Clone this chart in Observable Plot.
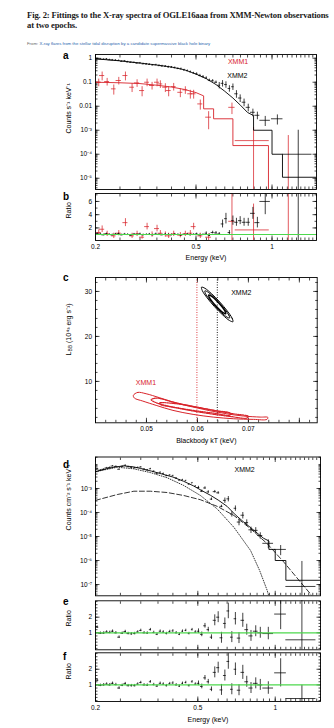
<!DOCTYPE html>
<html><head><meta charset="utf-8">
<script src="https://cdn.jsdelivr.net/npm/d3@7"></script>
<script src="https://cdn.jsdelivr.net/npm/@observablehq/plot@0.6"></script>
<style>
html,body{margin:0;padding:0;background:#fff;}
body{width:334px;height:728px;position:relative;overflow:hidden;font-family:"Liberation Sans",Arial,sans-serif;}
#title{position:absolute;left:27px;top:10px;font-family:"Liberation Serif",serif;font-weight:bold;font-size:8.6px;letter-spacing:-0.12px;line-height:10px;white-space:nowrap;color:#1a1a1a;}
#from{position:absolute;left:27px;top:40.5px;font-size:4.3px;line-height:5px;white-space:nowrap;color:#666;}
#from span{color:#2a64ad;}
.let{position:absolute;left:63px;font-weight:bold;font-size:10px;line-height:10px;color:#000;}
</style></head><body>
<div id="title">Fig. 2: Fittings to the X-ray spectra of OGLE16aaa from XMM-Newton observations<br>at two epochs.</div>
<div id="from">From: <span>X-ray flares from the stellar tidal disruption by a candidate supermassive black hole binary</span></div>
<div class="let" style="top:50.5px">a</div>
<div class="let" style="top:192.2px">b</div>
<div class="let" style="top:273.2px">c</div>
<div class="let" style="top:459.8px">d</div>
<div class="let" style="top:596.5px">e</div>
<div class="let" style="top:651.5px">f</div>
<script>
// ---------- XMM2 spectrum (energies, keV) ----------
const E2 = [0.203,0.209,0.215,0.221,0.227,0.233,0.240,0.247,0.254,0.261,
  0.268,0.276,0.284,0.292,0.300,0.309,0.318,0.327,0.337,0.347,
  0.357,0.367,0.378,0.389,0.400,0.412,0.424,0.436,0.449,0.462,
  0.475,0.489,0.503,0.518,0.533,0.549,0.565,0.582,0.600,0.618,
  0.637,0.657,0.678,0.700,0.723,0.748,0.775,0.805,0.840,0.875,
  0.940,1.050,1.270];
const dE2 = [0.003,0.003,0.003,0.003,0.003,0.003,0.003,0.003,0.003,0.003,
  0.003,0.003,0.003,0.003,0.003,0.003,0.003,0.003,0.003,0.003,
  0.003,0.003,0.003,0.003,0.003,0.003,0.003,0.003,0.003,0.003,
  0.003,0.003,0.006,0.006,0.006,0.006,0.006,0.008,0.008,0.008,
  0.008,0.008,0.008,0.008,0.011,0.012,0.013,0.015,0.018,0.020,
  0.045,0.055,0.170];
// panel a: XMM2 counts s^-1 keV^-1
const cntA2 = [0.95,0.93,0.90,0.92,0.86,0.84,0.82,0.80,0.74,0.76,
  0.70,0.67,0.66,0.62,0.63,0.58,0.57,0.55,0.52,0.53,
  0.49,0.47,0.46,0.43,0.42,0.40,0.37,0.36,0.32,0.30,
  0.27,0.24,0.22,0.19,0.17,0.15,0.12,0.115,0.10,0.075,
  0.09,0.08,0.055,0.065,0.033,0.022,0.0147,0.009,0.0056,0.0042,
  0.0026,0.0030,1.0e-4];
const relA2 = [0.06,0.06,0.06,0.06,0.06,0.06,0.06,0.06,0.06,0.06,
  0.06,0.06,0.06,0.06,0.06,0.06,0.06,0.06,0.06,0.06,
  0.08,0.08,0.08,0.08,0.08,0.08,0.08,0.08,0.08,0.08,
  0.08,0.08,0.12,0.12,0.12,0.12,0.12,0.12,0.12,0.3,
  0.3,0.3,0.3,0.3,0.35,0.35,0.35,0.35,0.35,0.35,
  0.45,0.45,9];
// panel b: XMM2 ratio
const ratB2 = [1.15,1.05,0.95,1.10,1.00,0.95,1.05,1.10,0.95,1.05,
  1.00,0.90,1.05,1.00,1.10,0.95,1.00,1.05,0.95,1.10,
  1.00,0.95,1.05,1.00,0.95,1.05,1.00,0.90,1.00,1.05,
  0.95,1.00,1.10,0.95,1.00,1.20,0.90,1.30,1.25,1.10,
  2.60,3.40,1.30,3.10,2.85,3.10,2.85,2.85,4.20,2.80,
  6.00,20,9];
const errB2 = [0.12,0.12,0.12,0.12,0.12,0.12,0.12,0.12,0.12,0.12,
  0.12,0.12,0.12,0.12,0.12,0.12,0.12,0.12,0.12,0.12,
  0.12,0.12,0.12,0.12,0.12,0.12,0.12,0.12,0.12,0.12,
  0.12,0.12,0.12,0.12,0.12,0.2,0.2,0.2,0.2,0.2,
  0.6,0.8,0.3,0.7,0.6,0.6,0.6,0.6,0.9,0.8,
  2.0,5,12];
// ---------- XMM1 spectrum ----------
const E1 = [0.206,0.2125,0.2224,0.2363,0.2473,0.2628,0.2792,0.2922,0.3059,0.3201,
  0.335,0.3505,0.3613,0.3781,0.3897,0.408,0.4335,0.4537,0.4748,0.4894,
  0.52,0.561,0.694,0.845,1.16];
const dE1 = [0.005,0.005,0.005,0.005,0.006,0.006,0.006,0.007,0.007,0.007,
  0.008,0.008,0.008,0.009,0.009,0.009,0.010,0.010,0.011,0.011,
  0.012,0.015,0.020,0.130,0.100];
const cntA1 = [0.10,0.19,0.107,0.053,0.118,0.19,0.062,0.094,0.045,0.10,
  0.073,0.10,0.085,0.062,0.045,0.066,0.038,0.048,0.033,0.033,
  0.0125,0.0035,0.009,3.7e-4,1e-6];
const relA1 = [0.35,0.4,0.35,0.45,0.35,0.4,0.4,0.35,0.45,0.35,
  0.35,0.35,0.35,0.4,0.45,0.35,0.4,0.35,0.4,0.4,
  0.45,0.7,0.5,2.5,600];
const ratB1 = [1.3,1.8,1.1,0.8,1.2,2.8,0.8,1.1,0.6,2.2,
  1.0,1.9,1.2,1.0,0.8,1.1,0.9,1.1,1.2,2.2,
  0.8,0.6,3.0,1.7,50];
const errB1 = [0.4,0.5,0.4,0.4,0.4,0.6,0.4,0.4,0.3,0.5,
  0.4,0.5,0.4,0.4,0.4,0.4,0.4,0.4,0.4,0.5,
  0.4,0.5,9,3.9,60];
// ---------- panel a models ----------
const modA2E = [0.2,0.25,0.3,0.35,0.4,0.45,0.5,0.55,0.6,0.65,0.7,0.75,0.8,0.845,0.845,1.0,1.0,1.1,1.1,1.5];
const modA2V = [0.94,0.78,0.63,0.52,0.43,0.33,0.22,0.14,0.08,0.042,0.022,0.011,0.0055,0.0041,0.001,0.001,1e-4,1e-4,1.1e-5,1.1e-5];
const modA1E = [0.2,0.25,0.3,0.35,0.4,0.45,0.5,0.536,0.536,0.587,0.587,0.70,0.70,0.968,0.968,1.5];
const modA1V = [0.10,0.095,0.088,0.075,0.063,0.05,0.037,0.027,0.0078,0.0078,0.003,0.003,2.3e-4,2.3e-4,1e-9,1e-9];
// ---------- panel d: unfolded XMM2 ----------
const fluxD2 = [6.5e-3,5.8e-3,6.3e-3,7.2e-3,7.5e-3,8.6e-3,8.3e-3,6.3e-3,8.4e-3,9.2e-3,
  8.0e-3,7.4e-3,7.2e-3,7.5e-3,7.8e-3,6.4e-3,5.9e-3,6.6e-3,5.2e-3,4.2e-3,
  4.7e-3,4.2e-3,3.4e-3,3.6e-3,3.4e-3,2.7e-3,2.2e-3,2.3e-3,2.1e-3,1.5e-3,
  1.7e-3,1.25e-3,1.1e-3,7.7e-4,1.05e-3,7.2e-4,3.6e-4,7.4e-4,6.6e-4,1.8e-4,
  3.2e-4,3.7e-4,8.6e-5,1.5e-4,4.0e-5,7.7e-5,3.8e-5,1.9e-5,1.8e-5,1.1e-5,
  5.2e-6,2.9e-6,8.3e-8];
const relD2 = [0.05,0.05,0.05,0.05,0.05,0.05,0.05,0.05,0.05,0.05,
  0.05,0.05,0.05,0.05,0.05,0.05,0.05,0.05,0.05,0.05,
  0.05,0.05,0.05,0.05,0.05,0.05,0.05,0.05,0.05,0.05,
  0.05,0.05,0.12,0.12,0.12,0.12,0.12,0.12,0.12,0.12,
  0.25,0.25,0.25,0.25,0.3,0.3,0.3,0.3,0.3,0.3,
  0.4,0.45,10];
const modDE = [0.2,0.22,0.24,0.26,0.28,0.30,0.33,0.36,0.40,0.44,0.48,0.52,0.56,0.60,0.65,0.70,0.75,0.80,0.85,0.90,0.945,0.945,1.0,1.0,1.1,1.1,1.5];
const modDV = [5.0e-3,6.6e-3,8.0e-3,8.7e-3,8.0e-3,6.8e-3,5.3e-3,4.1e-3,3.0e-3,2.0e-3,1.3e-3,8.0e-4,5.2e-4,3.3e-4,1.8e-4,8.0e-5,4.2e-5,2.4e-5,1.4e-5,8.5e-6,6.5e-6,2.9e-6,2.9e-6,1.0e-6,1.0e-6,1.5e-7,1.5e-7];
const compPlE = [0.2,0.243,0.282,0.327,0.38,0.441,0.512,0.595,0.691,0.802,0.931,1.081,1.255,1.37,1.45];
const compPlV = [3.2e-4,5.6e-4,7.7e-4,7.7e-4,6.8e-4,5.1e-4,3.4e-4,1.8e-4,7.5e-5,2.1e-5,5e-6,8.5e-7,1.25e-7,4.1e-8,1.5e-8];
const compBbE = [0.2,0.243,0.282,0.327,0.38,0.441,0.512,0.595,0.691,0.802,0.87,0.931,0.97];
const compBbV = [5.0e-3,7.7e-3,6.6e-3,4.6e-3,2.8e-3,1.33e-3,5.1e-4,1.4e-4,2.4e-5,2.6e-6,3.8e-7,5.6e-8,1.2e-8];
// ---------- panels e, f: ratios ----------
const ratE2 = [1.36,0.97,0.98,1.05,1.02,1.10,1.00,0.72,0.97,1.08,
  0.95,0.93,0.95,1.05,1.15,1.00,0.98,1.20,1.02,0.90,
  1.10,1.05,0.95,1.08,1.12,1.00,0.90,1.10,1.15,0.95,
  1.20,1.05,1.10,0.90,1.45,1.20,0.72,1.80,2.00,0.68,
  1.60,2.40,0.72,1.90,0.66,1.80,1.20,0.80,1.10,1.00,
  0.95,2.20,0.55];
const errE2 = [0.08,0.08,0.08,0.08,0.08,0.08,0.08,0.08,0.08,0.08,
  0.08,0.08,0.08,0.08,0.08,0.08,0.08,0.08,0.08,0.08,
  0.08,0.08,0.08,0.08,0.08,0.08,0.08,0.08,0.08,0.08,
  0.08,0.08,0.15,0.15,0.15,0.15,0.15,0.35,0.35,0.35,
  0.35,0.5,0.35,0.4,0.35,0.45,0.35,0.35,0.35,0.35,
  0.4,1.0,5];
const ratF2 = [1.30,0.97,1.00,1.05,1.00,1.10,1.02,0.80,0.97,1.08,
  0.95,0.95,0.95,1.05,1.15,1.00,0.98,1.20,1.02,0.92,
  1.10,1.05,0.95,1.08,1.12,1.00,0.92,1.10,1.15,0.95,
  1.20,1.05,1.10,0.90,1.45,1.20,0.72,1.80,2.10,0.68,
  1.60,2.50,0.72,2.00,0.66,1.80,1.20,0.80,1.10,1.00,
  0.80,1.77,0.13];
const errF2 = [0.08,0.08,0.08,0.08,0.08,0.08,0.08,0.08,0.08,0.08,
  0.08,0.08,0.08,0.08,0.08,0.08,0.08,0.08,0.08,0.08,
  0.08,0.08,0.08,0.08,0.08,0.08,0.08,0.08,0.08,0.08,
  0.08,0.08,0.15,0.15,0.15,0.15,0.15,0.35,0.35,0.35,
  0.35,0.5,0.35,0.4,0.35,0.45,0.35,0.35,0.35,0.35,
  0.4,0.9,0.85];
// ---------- panel c: confidence contours (kT keV, L 1e43 erg/s) ----------
const red1 = [[0.04743,6.9],[0.04829,7.56],[0.04993,7.26],[0.05257,6.37],[0.05586,5.19],[0.05915,4.30],[0.06244,3.48],[0.06573,2.81],[0.06902,2.30],[0.07231,2.07],[0.07382,2.0],[0.07363,1.56],[0.07099,1.56],[0.06704,1.70],[0.06310,2.07],[0.05915,2.67],[0.05520,3.56],[0.05191,4.67],[0.04928,5.63],[0.04763,6.30]];
const red2 = [[0.05092,5.93],[0.05191,6.30],[0.05520,5.41],[0.05915,4.44],[0.06310,3.56],[0.06704,2.81],[0.07000,2.22],[0.06967,1.85],[0.06639,2.22],[0.06244,2.81],[0.05849,3.56],[0.05454,4.44],[0.05158,5.41]];
const red3 = [[0.05257,5.2],[0.05586,5.04],[0.05981,4.30],[0.06376,3.48],[0.06639,2.96],[0.06639,2.52],[0.06310,2.96],[0.05915,3.56],[0.05520,4.30],[0.05290,4.78]];
const blk1 = [[0.06697,23.27],[0.06681,24.04],[0.06587,25.64],[0.06440,27.63],[0.06278,29.48],[0.06147,30.70],[0.06080,30.95],[0.06096,30.18],[0.06190,28.58],[0.06337,26.59],[0.06499,24.74],[0.06630,23.53]];
const blk2 = [[0.06632,24.10],[0.06618,24.70],[0.06543,25.94],[0.06427,27.51],[0.06301,28.96],[0.06198,29.92],[0.06146,30.13],[0.06159,29.52],[0.06234,28.28],[0.06350,26.71],[0.06476,25.26],[0.06579,24.30]];
const blk3 = [[0.06556,25.03],[0.06548,25.46],[0.06418,27.41],[0.06258,29.06],[0.06221,29.19],[0.06229,28.76],[0.06360,26.81],[0.06519,25.16]];
const bestKT = [0.0599, 0.0639]; // XMM1, XMM2
// ---------- ticks & labels ----------
const X_DOMAIN = [0.2, 1.5];
const X_MAJOR = [0.2, 0.5, 1];
const X_LABELS = ["0.2", "0.5", "1"];
const Y_MAJOR_A = [1, 0.1, 0.01, 1e-3, 1e-4, 1e-5];
const Y_LAB_A = ["1", "0.1", "0.01", "10⁻³", "10⁻⁴", "10⁻⁵"];
const Y_MAJOR_B = [2, 4, 6];
const Y_MAJOR_D = [1e-3, 1e-4, 1e-5, 1e-6, 1e-7];
const Y_LAB_D = ["10⁻³", "10⁻⁴", "10⁻⁵", "10⁻⁶", "10⁻⁷"];
const Y_MAJOR_EF = [1, 2];
const C_X_MAJOR = [0.04, 0.05, 0.06, 0.07, 0.08];
const C_X_LABELED = [0.05, 0.06, 0.07];
const C_Y_MAJOR = [10, 20, 30];
const TXT = {
  a1: {x: 0.669, y: 0.68, t: "XMM1"}, a2: {x: 0.665, y: 0.19, t: "XMM2"},
  c1: {x: 0.0499, y: 9.6, t: "XMM1"}, c2: {x: 0.0686, y: 29.6, t: "XMM2"},
  d2: {x: 0.76, y: 0.0063, t: "XMM2"}
};

const W = 334, RED = "#d8232a", GREEN = "#4cd84c", FONT = '"Liberation Sans", Arial, sans-serif';

function mk(opts, top) {
  const svg = Plot.plot({width: W, style: {background: "transparent", fontFamily: FONT, fontSize: "6.5px", color: "#000", overflow: "visible"}, ...opts});
  svg.style.position = "absolute"; svg.style.left = "0px"; svg.style.top = top + "px";
  document.body.appendChild(svg);
  return svg;
}
function tickMarks(xMaj, xMin, yMaj, yMin) {
  const out = [];
  const t = (axis, anchor, ticks, len) => {
    const o = {anchor, ticks, tickSize: len, tickFormat: () => "", label: null, strokeWidth: 0.7};
    if (anchor === "left") o.dx = len;
    if (anchor === "right") o.dx = -len;
    if (anchor === "bottom") o.dy = -len;
    if (anchor === "top") o.dy = len;
    return axis === "x" ? Plot.axisX(o) : Plot.axisY(o);
  };
  for (const a of ["bottom", "top"]) out.push(t("x", a, xMaj, 4.5), t("x", a, xMin, 2.5));
  for (const a of ["left", "right"]) out.push(t("y", a, yMaj, 4.5), t("y", a, yMin, 2.5));
  return out;
}
function logErr(E, dE, v, rel, color) {
  const I = d3.range(E.length);
  return [
    Plot.ruleX(I, {x: i => E[i], y1: i => Math.max(v[i] * (1 - rel[i]), 1e-12), y2: i => v[i] * (1 + rel[i]), stroke: color, strokeWidth: 0.75, clip: true}),
    Plot.ruleY(I, {y: i => v[i], x1: i => E[i] - dE[i], x2: i => E[i] + dE[i], stroke: color, strokeWidth: 0.75, clip: true})
  ];
}
function linErr(E, dE, r, err, color) {
  const I = d3.range(E.length);
  return [
    Plot.ruleX(I, {x: i => E[i], y1: i => r[i] - err[i], y2: i => r[i] + err[i], stroke: color, strokeWidth: 0.75, clip: true}),
    Plot.ruleY(I, {y: i => r[i], x1: i => E[i] - dE[i], x2: i => E[i] + dE[i], stroke: color, strokeWidth: 0.75, clip: true})
  ];
}
const line = (X, Y, o) => Plot.line(d3.range(X.length), {x: i => X[i], y: i => Y[i], clip: true, ...o});
const yTitle = (s, dy) => Plot.text([s], {text: d => d, frameAnchor: "left", rotate: -90, dx: -27, dy, fontSize: 7});
const xTitle = (s, dy) => Plot.text([s], {text: d => d, frameAnchor: "bottom", dy, fontSize: 7});
const xLabels = () => Plot.axisX({anchor: "bottom", ticks: X_MAJOR, tickSize: 0, tickPadding: 3.5, tickFormat: d => X_LABELS[X_MAJOR.indexOf(d)], label: null});
const label = (o, fill) => Plot.text([o], {x: "x", y: "y", text: "t", fill, fontSize: 7});

// ---- panel a ----
mk({height: 138, marginTop: 2, marginBottom: 1, marginLeft: 95, marginRight: 18,
  x: {type: "log", domain: X_DOMAIN}, y: {type: "log", domain: [3.4e-6, 1.43]},
  marks: [
    ...tickMarks(X_MAJOR, 40, Y_MAJOR_A, 60),
    Plot.axisY({anchor: "left", ticks: Y_MAJOR_A, tickSize: 0, tickPadding: 3.5, tickFormat: d => Y_LAB_A[Y_MAJOR_A.indexOf(d)], label: null}),
    ...logErr(E1, dE1, cntA1, relA1, RED),
    line(modA1E, modA1V, {stroke: RED, strokeWidth: 0.9}),
    ...logErr(E2, dE2, cntA2, relA2, "#000"),
    line(modA2E, modA2V, {stroke: "#000", strokeWidth: 0.9}),
    Plot.text([TXT.a1], {x: "x", y: "y", text: "t", fill: RED, fontSize: 7, textAnchor: "start"}),
    Plot.text([TXT.a2], {x: "x", y: "y", text: "t", fill: "#000", fontSize: 7, textAnchor: "start"}),
    yTitle("Counts s⁻¹ keV⁻¹", 11.5),
    Plot.frame({strokeWidth: 0.9})
  ]}, 52);

// ---- panel b ----
mk({height: 74, marginTop: 2, marginBottom: 25, marginLeft: 95, marginRight: 18,
  x: {type: "log", domain: X_DOMAIN}, y: {domain: [0.1, 7.2]},
  marks: [
    ...tickMarks(X_MAJOR, 40, Y_MAJOR_B, 8),
    Plot.axisY({anchor: "left", ticks: Y_MAJOR_B, tickSize: 0, tickPadding: 3.5, tickFormat: d => String(d), label: null}),
    xLabels(),
    ...linErr(E1, dE1, ratB1, errB1, RED),
    ...linErr(E2, dE2, ratB2, errB2, "#000"),
    Plot.ruleY([1], {stroke: GREEN, strokeWidth: 1.1}),
    yTitle("Ratio", 1.5),
    xTitle("Energy (keV)", 19),
    Plot.frame({strokeWidth: 0.9})
  ]}, 191);

// ---- panel c ----
const LBB = "LBB (10⁴³ erg s⁻¹)";
const svgC = mk({height: 175.3, marginTop: 4, marginBottom: 26, marginLeft: 95, marginRight: 17.3,
  x: {domain: [0.04, 0.0835]}, y: {domain: [0.8, 33.1]},
  marks: [
    ...tickMarks(C_X_MAJOR, 25, C_Y_MAJOR, 20),
    Plot.axisY({anchor: "left", ticks: C_Y_MAJOR, tickSize: 0, tickPadding: 3.5, tickFormat: d => String(d), label: null}),
    Plot.axisX({anchor: "bottom", ticks: C_X_LABELED, tickSize: 0, tickPadding: 3.5, tickFormat: d => d.toFixed(2), label: null}),
    Plot.ruleX([bestKT[0]], {stroke: RED, strokeWidth: 0.9, strokeDasharray: "1,1.5"}),
    Plot.ruleX([bestKT[1]], {stroke: "#000", strokeWidth: 0.9, strokeDasharray: "1,1.5"}),
    Plot.line(red1, {x: d => d[0], y: d => d[1], stroke: RED, strokeWidth: 1, curve: "catmull-rom-closed"}),
    Plot.line(red2, {x: d => d[0], y: d => d[1], stroke: RED, strokeWidth: 1.2, strokeDasharray: "1.2,1", curve: "catmull-rom-closed"}),
    Plot.line(red3, {x: d => d[0], y: d => d[1], stroke: RED, strokeWidth: 1.2, strokeDasharray: "1.2,1", curve: "catmull-rom-closed"}),
    Plot.line(blk1, {x: d => d[0], y: d => d[1], stroke: "#000", strokeWidth: 1, curve: "catmull-rom-closed"}),
    Plot.line(blk2, {x: d => d[0], y: d => d[1], stroke: "#000", strokeWidth: 1, curve: "catmull-rom-closed"}),
    Plot.line(blk3, {x: d => d[0], y: d => d[1], stroke: "#000", strokeWidth: 1.4, curve: "catmull-rom-closed"}),
    label(TXT.c1, RED), label(TXT.c2, "#000"),
    yTitle(LBB, 5.3),
    xTitle("Blackbody kT (keV)", 20.4),
    Plot.frame({strokeWidth: 0.9})
  ]}, 273);
d3.select(svgC).selectAll("text").filter(function () { return this.textContent === LBB; }).each(function () {
  const t = d3.select(this); t.text("");
  t.append("tspan").text("L");
  t.append("tspan").attr("font-size", "5px").attr("dy", "1.5").text("BB");
  t.append("tspan").attr("dy", "-1.5").text(" (10⁴³ erg s⁻¹)");
});

// ---- panel d ----
mk({height: 144.8, marginTop: 4.5, marginBottom: 1.5, marginLeft: 95, marginRight: 14,
  x: {type: "log", domain: X_DOMAIN}, y: {type: "log", domain: [3.39e-8, 0.0205]},
  marks: [
    ...tickMarks(X_MAJOR, 40, Y_MAJOR_D, 60),
    Plot.axisY({anchor: "left", ticks: Y_MAJOR_D, tickSize: 0, tickPadding: 3.5, tickFormat: d => Y_LAB_D[Y_MAJOR_D.indexOf(d)], label: null}),
    line(compPlE, compPlV, {stroke: "#000", strokeWidth: 0.8, strokeDasharray: "5,2.5"}),
    line(compBbE, compBbV, {stroke: "#000", strokeWidth: 0.8, strokeDasharray: "0.8,1.6"}),
    ...logErr(E2, dE2, fluxD2, relD2, "#000"),
    line(modDE, modDV, {stroke: "#000", strokeWidth: 0.9}),
    label(TXT.d2, "#000"),
    yTitle("Counts cm⁻² s⁻¹ keV⁻¹", 4),
    Plot.frame({strokeWidth: 0.9})
  ]}, 452);

// ---- panel e ----
mk({height: 52.8, marginTop: 2.3, marginBottom: 1.5, marginLeft: 95, marginRight: 14,
  x: {type: "log", domain: X_DOMAIN}, y: {domain: [-0.09, 3.05]},
  marks: [
    ...tickMarks(X_MAJOR, 40, Y_MAJOR_EF, 15),
    Plot.axisY({anchor: "left", ticks: Y_MAJOR_EF, tickSize: 0, tickPadding: 3.5, tickFormat: d => String(d), label: null}),
    ...linErr(E2, dE2, ratE2, errE2, "#000"),
    Plot.ruleY([1], {stroke: GREEN, strokeWidth: 1.2}),
    yTitle("Ratio", 1.2),
    Plot.frame({strokeWidth: 0.9})
  ]}, 598);

// ---- panel f ----
mk({height: 77, marginTop: 1.3, marginBottom: 27, marginLeft: 95, marginRight: 14,
  x: {type: "log", domain: X_DOMAIN}, y: {domain: [-0.06, 3.05]},
  marks: [
    ...tickMarks(X_MAJOR, 40, Y_MAJOR_EF, 15),
    Plot.axisY({anchor: "left", ticks: Y_MAJOR_EF, tickSize: 0, tickPadding: 3.5, tickFormat: d => String(d), label: null}),
    xLabels(),
    ...linErr(E2, dE2, ratF2, errF2, "#000"),
    Plot.ruleY([1], {stroke: GREEN, strokeWidth: 1.2}),
    yTitle("Ratio", 2.3),
    xTitle("Energy (keV)", 20),
    Plot.frame({strokeWidth: 0.9})
  ]}, 651);
</script>
</body></html>
